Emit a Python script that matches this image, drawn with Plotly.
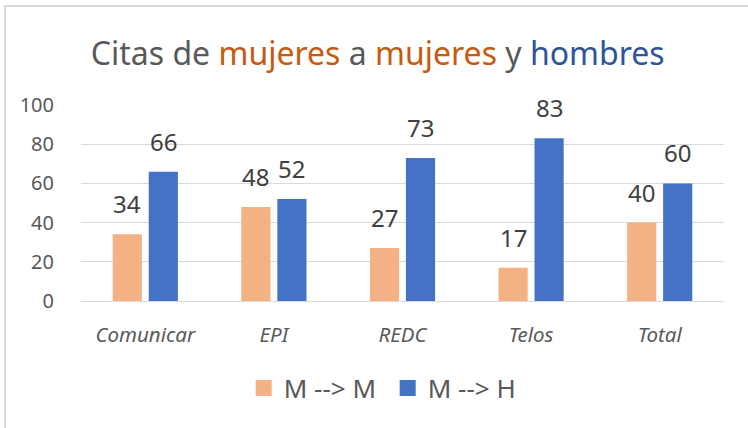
import plotly.graph_objects as go

categories = ["Comunicar", "EPI", "REDC", "Telos", "Total"]
m_to_m = [34, 48, 27, 17, 40]
m_to_h = [66, 52, 73, 83, 60]
series_names = ["M --> M", "M --> H"]
y_ticks = [0, 20, 40, 60, 80, 100]

ORANGE = "#F4B183"
BLUE = "#4472C4"
FONT = "Noto Sans"

fig = go.Figure()
fig.add_trace(go.Bar(x=categories, y=m_to_m, name=series_names[0], showlegend=False,
                     marker=dict(color=ORANGE, line=dict(width=0))))
fig.add_trace(go.Bar(x=categories, y=m_to_h, name=series_names[1], showlegend=False,
                     marker=dict(color=BLUE, line=dict(width=0))))
# legend entries with square swatches
for name, col in zip(series_names, (ORANGE, BLUE)):
    fig.add_trace(go.Scatter(x=[None], y=[None], mode="markers", name=name,
                             marker=dict(symbol="square", size=17, color=col)))

annotations = []
for vals, shift in ((m_to_m, -18), (m_to_h, 18)):
    for c, v in zip(categories, vals):
        annotations.append(dict(x=c, y=v, xref="x", yref="y", text=str(v),
                                showarrow=False, xshift=shift, yshift=12,
                                yanchor="bottom",
                                font=dict(family=FONT, size=24, color="#404040")))

title_html = ("<span style='color:#595959'>Citas de </span>"
              "<span style='color:#C55A11'>mujeres</span>"
              "<span style='color:#595959'> a </span>"
              "<span style='color:#C55A11'>mujeres</span>"
              "<span style='color:#595959'> y </span>"
              "<span style='color:#2F5597'>hombres</span>")

L, R, T, B = 81, 24, 105, 127
W, H = 748, 428
pw, ph = W - L - R, H - T - B
bx = (5 - L) / pw
by = 1 + (T - 6) / ph

fig.update_layout(
    width=W, height=H,
    margin=dict(l=L, r=R, t=T, b=B),
    paper_bgcolor="white", plot_bgcolor="white",
    barmode="group", bargap=0.44, bargroupgap=0.19,
    title=dict(text=title_html, x=0.505, xanchor="center", y=0.874, yanchor="middle",
               font=dict(family=FONT, size=32, color="#595959")),
    font=dict(family=FONT, color="#595959"),
    showlegend=True,
    legend=dict(orientation="h", x=0.253, xanchor="left", y=-0.445, yanchor="middle",
                font=dict(family=FONT, size=26, color="#595959"),
                itemwidth=30, traceorder="normal", entrywidth=99),
    xaxis=dict(showgrid=False, showline=False, zeroline=False,
               ticks="outside", ticklen=15, tickcolor="rgba(0,0,0,0)",
               tickfont=dict(family=FONT, size=20.5, color="#595959", style="italic")),
    yaxis=dict(range=[0, 100], tickvals=y_ticks, showgrid=True, gridcolor="#D9D9D9",
               gridwidth=1.3, zeroline=True, zerolinecolor="#D9D9D9", zerolinewidth=1.3,
               showline=False, ticks="outside", ticklen=22, tickcolor="rgba(0,0,0,0)",
               tickfont=dict(family=FONT, size=20, color="#595959")),
    annotations=annotations,
    shapes=[dict(type="path", xref="paper", yref="paper",
                 path=f"M {bx} -2 L {bx} {by} L 2 {by}",
                 line=dict(color="#D9D9D9", width=2))],
)

fig.write_html("out.html", config={"displayModeBar": False},
               post_script="document.body.style.margin='0';")
